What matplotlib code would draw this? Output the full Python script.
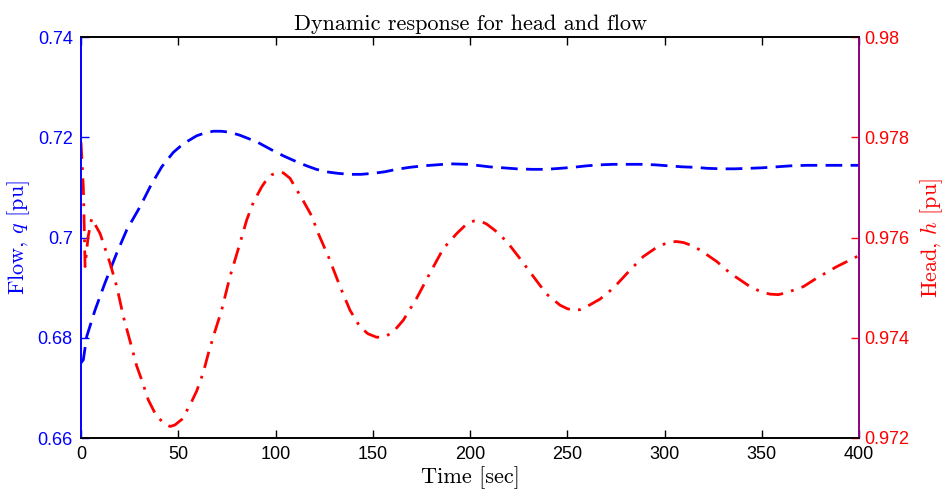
import matplotlib
matplotlib.use('Agg')
import matplotlib.pyplot as plt

plt.rcParams['mathtext.fontset'] = 'cm'

# Flow q [pu] (left axis)
t_flow = [0, 1.2, 2.9, 7.2, 12.3, 18.4, 23.5, 30.3, 35.5, 41.5, 47.5, 52.6, 59.5,
          64.0, 68.0, 72.0, 76.6, 81.7, 90.3, 98.9, 104.0, 110.9, 116.0, 121.0,
          126.3, 132.0, 138.3, 144.0, 150.0, 156.0, 162.3, 169.0, 176.0, 183.0,
          189.7, 198.3, 203.4, 210.0, 217.1, 224.0, 231.7, 239.0, 246.3, 253.0,
          260.0, 267.0, 273.7, 281.0, 288.3, 295.0, 302.0, 309.0, 315.7, 322.0,
          329.4, 336.0, 343.1, 350.0, 357.7, 365.0, 373.1, 386.8, 400]
flow = [0.6750, 0.6756, 0.6802, 0.6855, 0.6909, 0.6969, 0.7015, 0.7061, 0.7101,
        0.7141, 0.7170, 0.7187, 0.7203, 0.7209, 0.7212, 0.7212, 0.7210, 0.7204,
        0.7191, 0.7173, 0.7163, 0.7151, 0.7143, 0.7136, 0.7131, 0.7128, 0.7126,
        0.7126, 0.7128, 0.7131, 0.7136, 0.7140, 0.7143, 0.7145, 0.7147, 0.7146,
        0.7144, 0.7141, 0.7139, 0.7137, 0.7136, 0.7136, 0.7138, 0.7140, 0.7143,
        0.7145, 0.7146, 0.7146, 0.7146, 0.7145, 0.7143, 0.7141, 0.7140, 0.7138,
        0.7137, 0.7137, 0.7138, 0.7139, 0.7141, 0.7143, 0.7144, 0.7144, 0.7144]

# Head h [pu] (right axis)
t_head = [0, 1.2, 2.1, 3.6, 5.5, 9.8, 14.9, 18.4, 21.8, 26.0, 28.6, 31.2, 34.6,
          38.9, 43.2, 45.8, 48.3, 51.8, 56.1, 59.5, 62.9, 65.5, 68.0, 72.3, 76.6,
          81.7, 85.2, 88.6, 92.9, 95.5, 98.0, 101.0, 104.0, 107.5, 110.0, 114.3,
          118.6, 122.0, 127.2, 133.2, 138.3, 143.4, 147.5, 152.0, 156.3, 160.6,
          165.7, 172.6, 179.4, 186.3, 193.2, 198.3, 202.0, 205.1, 208.5, 212.9,
          218.9, 225.7, 232.6, 239.4, 246.3, 250.0, 253.1, 256.5, 260.0, 266.8,
          273.7, 282.3, 289.1, 295.1, 298.5, 302.0, 306.0, 309.7, 314.0, 318.3,
          326.9, 333.7, 344.0, 350.0, 354.3, 358.5, 362.8, 371.4, 378.3, 388.6, 400]
head = [0.97790, 0.97700, 0.97542, 0.97600, 0.97638, 0.97608, 0.97549, 0.97502,
        0.97442, 0.97382, 0.97344, 0.97316, 0.97276, 0.97243, 0.97228, 0.97223,
        0.97226, 0.97237, 0.97266, 0.97294, 0.97331, 0.97369, 0.97402, 0.97455,
        0.97522, 0.97588, 0.97635, 0.97670, 0.97701, 0.97716, 0.97725, 0.97730,
        0.97729, 0.97718, 0.97701, 0.97673, 0.97643, 0.97608, 0.97562, 0.97502,
        0.97455, 0.97422, 0.97408, 0.97401, 0.97402, 0.97412, 0.97435, 0.97479,
        0.97529, 0.97578, 0.97608, 0.97627, 0.97633, 0.97633, 0.97627, 0.97614,
        0.97592, 0.97558, 0.97522, 0.97487, 0.97465, 0.97458, 0.97455, 0.97456,
        0.97462, 0.97477, 0.97499, 0.97535, 0.97562, 0.97578, 0.97585, 0.97590,
        0.97592, 0.97590, 0.97584, 0.97575, 0.97552, 0.97529, 0.97502, 0.97491,
        0.97487, 0.97486, 0.97490, 0.97502, 0.97519, 0.97542, 0.97564]

xticks = [0, 50, 100, 150, 200, 250, 300, 350, 400]
flow_ticks = [0.66, 0.68, 0.70, 0.72, 0.74]
flow_labels = ['0.66', '0.68', '0.7', '0.72', '0.74']
head_ticks = [0.972, 0.974, 0.976, 0.978, 0.980]
head_labels = ['0.972', '0.974', '0.976', '0.978', '0.98']

fig = plt.figure(figsize=(9.46, 4.96), dpi=100)
ax1 = fig.add_axes([81/946, 1 - 438/496, 778/946, 401/496])
ax2 = ax1.twinx()

tick_font = 'Liberation Sans'
serif = 'cmr10'

ax1.plot(t_flow, flow, color='blue', lw=2, linestyle=(0, (6, 3)))
ax2.plot(t_head, head, color='red', lw=2, linestyle=(0, (6, 3, 1, 3)))

ax1.set_xlim(0, 400)
ax1.set_ylim(0.66, 0.74)
ax2.set_ylim(0.972, 0.98)

ax1.set_xticks(xticks)
ax1.set_xticklabels([str(x) for x in xticks], family=tick_font, fontsize=13)
ax1.set_yticks(flow_ticks)
ax1.set_yticklabels(flow_labels, family=tick_font, fontsize=13, color='blue')
ax2.set_yticks(head_ticks)
ax2.set_yticklabels(head_labels, family=tick_font, fontsize=13, color='red')

ax1.tick_params(axis='x', direction='in', top=True, length=6, width=1, pad=6)
ax1.tick_params(axis='y', direction='in', length=6, width=1, colors='blue', pad=6)
ax2.tick_params(axis='y', direction='in', length=6, width=1, colors='red', pad=4)
ax2.tick_params(axis='x', top=False)

for ax in (ax1, ax2):
    for s in ax.spines.values():
        s.set_linewidth(1.2)
ax1.spines['left'].set_color('blue')
ax2.spines['left'].set_color('blue')
ax1.spines['right'].set_color('#8b008b')
ax2.spines['right'].set_color('#8b008b')

ax1.set_xlabel('Time [sec]', family=serif, fontsize=16, labelpad=2)
ax1.set_ylabel('Flow, $q$ [pu]', family=serif, fontsize=16, color='blue', labelpad=4)
ax2.set_ylabel('Head, $h$ [pu]', family=serif, fontsize=16, color='red', labelpad=6)
ax1.set_title('Dynamic response for head and flow', family=serif, fontsize=16, pad=5)

fig.savefig('out.png', dpi=100)
